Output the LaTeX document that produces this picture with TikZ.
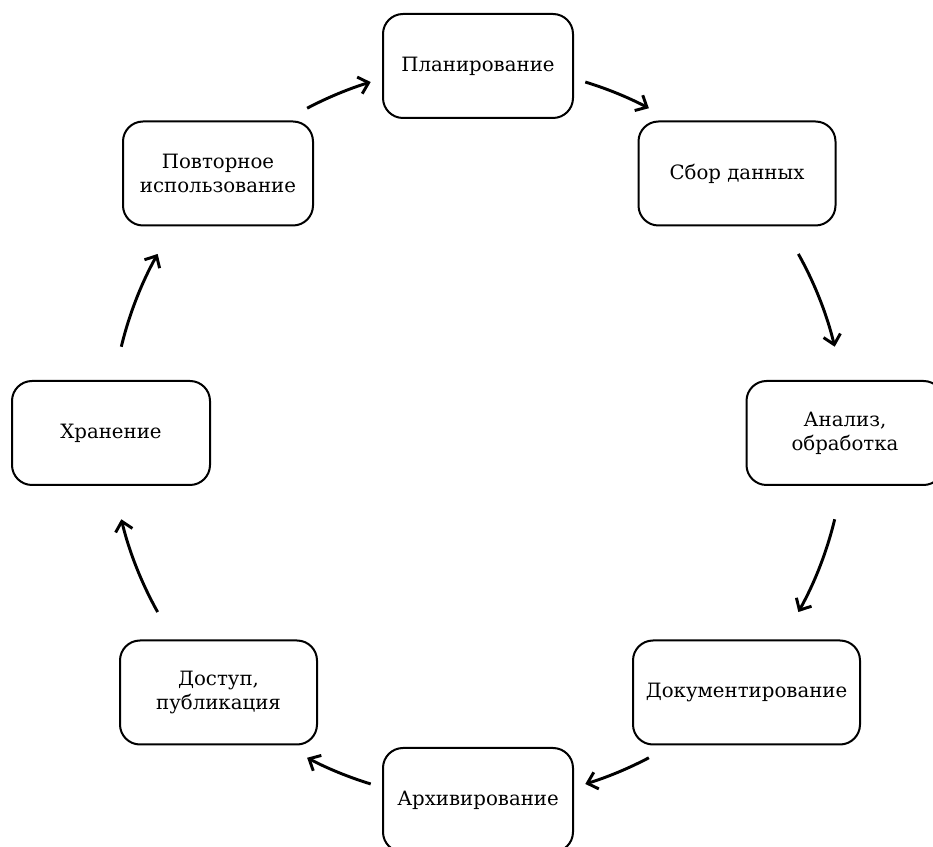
\documentclass[tikz,border=0pt]{standalone}
\usepackage{fontspec}
\setmainfont{DejaVu Serif}
\usetikzlibrary{arrows.meta,calc}
\begin{document}
\begin{tikzpicture}[x=0.75pt,y=0.75pt,
  stage/.style={draw, line width=1.5pt, rounded corners=15pt, align=center,
    minimum height=78pt, inner sep=4pt, font=\fontsize{14.8}{17.8}\selectfont},
  cyc/.style={line width=2.2pt, -{Straight Barb[length=7pt,width=13pt]}}]
\useasboundingbox (0,0) rectangle (933,847);
\coordinate (O) at (478,414);
\node[stage, minimum width=142.5pt] (plan) at (478,781) {Планирование};
\node[stage, minimum width=147.75pt] (sbor) at (737,673.5) {Сбор данных};
\node[stage, minimum width=147.75pt] (anal) at (845,414) {Анализ,\\обработка};
\node[stage, minimum width=170.25pt] (docs) at (746.5,154.5) {Документирование};
\node[stage, minimum width=142.5pt] (arch) at (478,47) {Архивирование};
\node[stage, minimum width=147.75pt] (dost) at (218.5,154.5) {Доступ,\\публикация};
\node[stage, minimum width=148.5pt] (hran) at (111,414) {Хранение};
\node[stage, minimum width=142.5pt] (povt) at (218,673.5) {Повторное\\использование};
% arrows along the cycle
\coordinate (s1) at ($(O)+(117.75:367)$);
\coordinate (s2) at ($(O)+(73:367)$);
\coordinate (s3) at ($(O)+(29.2:367)$);
\coordinate (s4) at ($(O)+(-13.6:367)$);
\coordinate (s5) at ($(O)+(-62.25:367)$);
\coordinate (s6) at ($(O)+(-107:367)$);
\coordinate (s7) at ($(O)+(-150.8:367)$);
\coordinate (s8) at ($(O)+(166.4:367)$);
\draw[cyc] (s1) arc[start angle=117.75, end angle=107, radius=275.25pt];
\draw[cyc] (s2) arc[start angle=73, end angle=62.25, radius=275.25pt];
\draw[cyc] (s3) arc[start angle=29.2, end angle=13.6, radius=275.25pt];
\draw[cyc] (s4) arc[start angle=-13.6, end angle=-29.2, radius=275.25pt];
\draw[cyc] (s5) arc[start angle=-62.25, end angle=-73, radius=275.25pt];
\draw[cyc] (s6) arc[start angle=-107, end angle=-117.75, radius=275.25pt];
\draw[cyc] (s7) arc[start angle=-150.8, end angle=-166.4, radius=275.25pt];
\draw[cyc] (s8) arc[start angle=166.4, end angle=150.8, radius=275.25pt];
\end{tikzpicture}
\end{document}
